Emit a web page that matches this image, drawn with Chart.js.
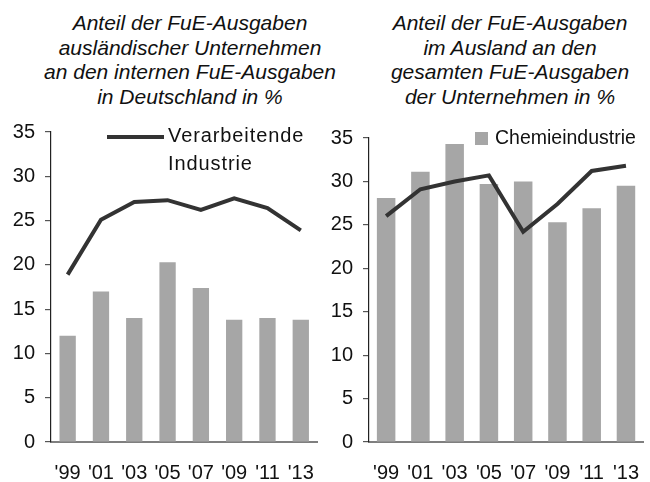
<!DOCTYPE html>
<html>
<head>
<meta charset="utf-8">
<script src="https://cdn.jsdelivr.net/npm/chart.js@4"></script>
<style>
  body { margin: 0; background: #fff; font-family: "Liberation Sans", Arial, sans-serif; }
  #wrap { position: relative; width: 650px; height: 482px; overflow: hidden; }
  .title {
    position: absolute; top: 11px; width: 340px; text-align: center;
    font-style: italic; font-size: 21px; line-height: 24.7px; color: #111;
  }
  canvas { position: absolute; top: 110px; }
  .leg { position: absolute; font-size: 20px; color: #111; }
</style>
</head>
<body>
<div id="wrap">
  <div class="title" style="left:20px">Anteil der FuE-Ausgaben<br>ausländischer Unternehmen<br>an den internen FuE-Ausgaben<br>in Deutschland in %</div>
  <div class="title" style="left:340px">Anteil der FuE-Ausgaben<br>im Ausland an den<br>gesamten FuE-Ausgaben<br>der Unternehmen in %</div>
  <canvas id="c1" width="325" height="372" style="left:0;width:325px;height:372px"></canvas>
  <canvas id="c2" width="325" height="372" style="left:325px;width:325px;height:372px"></canvas>
  <div class="leg" style="left:107px;top:121px;line-height:28px;letter-spacing:0.9px">
    <span style="display:inline-block;width:57px;height:4px;background:#333;vertical-align:middle;margin-right:4px"></span>Verarbeitende<br><span style="padding-left:61px">Industrie</span>
  </div>
  <div class="leg" style="left:475px;top:125px;font-size:19.5px;line-height:24px">
    <span style="display:inline-block;width:13px;height:13px;background:#a6a6a6;vertical-align:-1px;margin-right:7px"></span>Chemieindustrie
  </div>
</div>
<script>
const years = ["'99", "'01", "'03", "'05", "'07", "'09", "'11", "'13"];

// links: Anteil ausländischer Unternehmen an internen FuE-Ausgaben
const leftChemie = [12, 17, 14, 20.3, 17.4, 13.8, 14, 13.8];
const leftVerarb = [18.9, 25.1, 27.1, 27.3, 26.2, 27.5, 26.4, 23.9];

// rechts: Anteil der FuE-Ausgaben im Ausland
const rightChemie = [28.1, 31.1, 34.3, 29.7, 30, 25.3, 26.9, 29.5];
const rightVerarb = [26, 29.1, 30, 30.7, 24.2, 27.4, 31.2, 31.8];

const yTicks = [0, 5, 10, 15, 20, 25, 30, 35];

const font = { family: "'Liberation Sans', Arial, sans-serif", size: 20 };

function makeChart(id, bars, line, opts) {
  return new Chart(document.getElementById(id), {
    data: {
      labels: years,
      datasets: [
        {
          type: "line", label: "Verarbeitende Industrie", data: line,
          borderColor: "#333333", borderWidth: 4, pointRadius: 0, tension: 0, order: 0,
        },
        {
          type: "bar", label: "Chemieindustrie", data: bars,
          backgroundColor: "#a6a6a6", categoryPercentage: 1, barPercentage: opts.barPct, order: 1,
        },
      ],
    },
    options: {
      responsive: false,
      animation: false,
      layout: { padding: { top: opts.top, right: opts.right, left: 0, bottom: 0 } },
      plugins: { legend: { display: false }, tooltip: { enabled: false } },
      scales: {
        x: {
          offset: true,
          grid: { display: false },
          border: { display: true, color: "#7f7f7f", width: 2 },
          ticks: { color: "#111", font, padding: 11, maxRotation: 0 },
          afterFit: (s) => { s.height = 40; },
        },
        y: {
          min: 0, max: 35,
          afterBuildTicks: (s) => { s.ticks = yTicks.map((v) => ({ value: v })); },
          grid: { drawOnChartArea: false, drawTicks: true, tickLength: 6, color: "#555", lineWidth: 1.2 },
          border: { display: true, color: "#222", width: 1.2 },
          ticks: { color: "#111", font, padding: 10 },
          afterFit: (s) => { s.width = opts.yw; },
        },
      },
    },
  });
}

makeChart("c1", leftChemie, leftVerarb, { barPct: 0.49, top: 22, right: 3, yw: 51 });
makeChart("c2", rightChemie, rightVerarb, { barPct: 0.54, top: 28, right: 0, yw: 44 });
</script>
</body>
</html>
